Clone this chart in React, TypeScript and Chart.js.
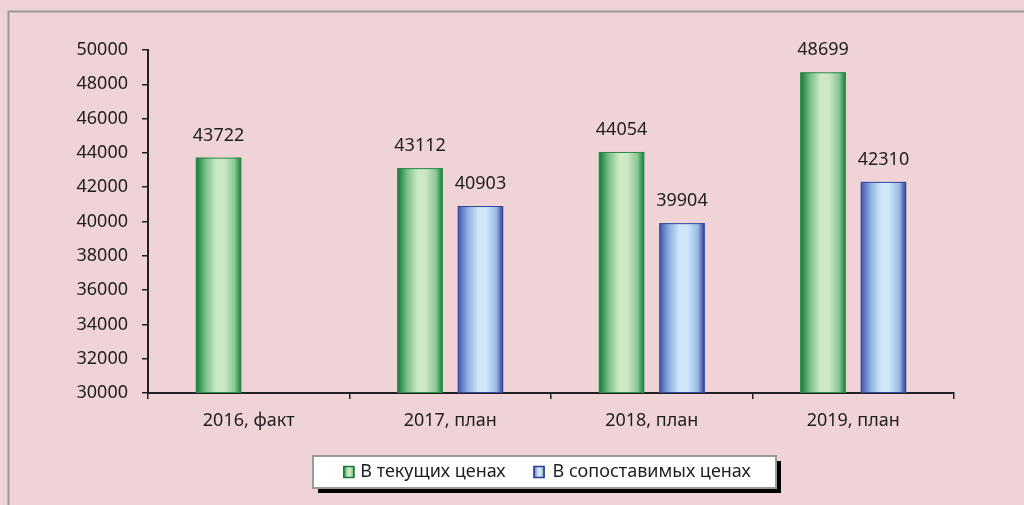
import React, { useEffect, useRef } from "react";
import { Chart, registerables } from "chart.js";

Chart.register(...registerables);

const categories = ["2016, факт", "2017, план", "2018, план", "2019, план"];
const currentPrices: (number | null)[] = [43722, 43112, 44054, 48699];
const comparablePrices: (number | null)[] = [null, 40903, 39904, 42310];
const seriesLabels = ["В текущих ценах", "В сопоставимых ценах"];
const yMin = 30000;
const yMax = 50000;
const yStep = 2000;

const BG = "#f0d3d6";
const FONT = "'Noto Sans', sans-serif";
const TEXT = "#1e1e1e";

const palettes = [
  { edgeL: "#0b7a35", mid1: "#7cc08a", light: "#cde8c5", mid2: "#8cc896", edgeR: "#0d7d37", border: "#2c8a48" },
  { edgeL: "#3e55ab", mid1: "#8fb0e0", light: "#cde8f8", mid2: "#9ab8e6", edgeR: "#2c3b8e", border: "#34479c" },
];

function makeGrad(ctx: CanvasRenderingContext2D, x0: number, x1: number, p: any) {
  const g = ctx.createLinearGradient(x0, 0, x1, 0);
  g.addColorStop(0, p.edgeL);
  g.addColorStop(0.22, p.mid1);
  g.addColorStop(0.45, p.light);
  g.addColorStop(0.62, p.light);
  g.addColorStop(0.85, p.mid2);
  g.addColorStop(1, p.edgeR);
  return g;
}

const decorPlugin = {
  id: "decor",
  beforeDraw(chart: any) {
    const ctx = chart.ctx as CanvasRenderingContext2D;
    ctx.save();
    ctx.fillStyle = BG;
    ctx.fillRect(0, 0, chart.width, chart.height);
    ctx.strokeStyle = "#999999";
    ctx.lineWidth = 2;
    ctx.beginPath();
    ctx.moveTo(8.5, chart.height);
    ctx.lineTo(8.5, 11.5);
    ctx.lineTo(chart.width, 11.5);
    ctx.stroke();
    ctx.restore();
  },
  afterDatasetsDraw(chart: any) {
    const ctx = chart.ctx as CanvasRenderingContext2D;
    const bottom = chart.chartArea.bottom;
    ctx.save();
    chart.data.datasets.forEach((ds: any, di: number) => {
      const meta = chart.getDatasetMeta(di);
      const p = palettes[di];
      meta.data.forEach((el: any, i: number) => {
        const v = ds.data[i];
        if (v === null || v === undefined) return;
        const { x, y, base, width } = el.getProps(["x", "y", "base", "width"], true);
        const b = Math.min(base, bottom);
        const x0 = x - width / 2;
        const x1 = x + width / 2;
        ctx.fillStyle = makeGrad(ctx, x0, x1, p);
        ctx.fillRect(x0, y, width, b - y);
        ctx.strokeStyle = p.border;
        ctx.lineWidth = 1;
        ctx.strokeRect(x0 + 0.5, y + 0.5, width - 1, b - y - 1);
        ctx.fillStyle = TEXT;
        ctx.font = `18px ${FONT}`;
        ctx.textAlign = "center";
        ctx.textBaseline = "middle";
        ctx.fillText(String(v), x, y - 22);
      });
    });
    ctx.restore();
  },
  afterDraw(chart: any) {
    const ctx = chart.ctx as CanvasRenderingContext2D;
    ctx.save();
    ctx.font = `18px ${FONT}`;
    const labels = chart.data.datasets.map((d: any) => d.label);
    const w1 = ctx.measureText(labels[0]).width;
    const w2 = ctx.measureText(labels[1]).width;
    const mk = 11;
    const total = mk + 7 + w1 + 28 + mk + 9 + w2;
    const cx = (chart.chartArea.left + chart.chartArea.right) / 2 - 3;
    const startX = cx - total / 2;
    const padL = 30;
    const padR = 24;
    const bx = Math.round(startX - padL);
    const bw = Math.round(total + padL + padR);
    const by = 456;
    const bh = 32;
    ctx.fillStyle = "#000000";
    ctx.fillRect(bx + 5, by + 5, bw, bh);
    ctx.fillStyle = "#ffffff";
    ctx.fillRect(bx, by, bw, bh);
    ctx.strokeStyle = "#9a9a9a";
    ctx.lineWidth = 2;
    ctx.strokeRect(bx, by, bw, bh);
    const cy = by + bh / 2;
    let xx = startX;
    [w1, w2].forEach((w, i) => {
      const p = palettes[i];
      ctx.fillStyle = makeGrad(ctx, xx, xx + mk, p);
      ctx.fillRect(xx, cy - 6, mk, 12);
      ctx.strokeStyle = p.edgeR;
      ctx.lineWidth = 1.5;
      ctx.strokeRect(xx + 0.5, cy - 5.5, mk - 1, 11);
      xx += mk + (i === 0 ? 6 : 8);
      ctx.fillStyle = TEXT;
      ctx.textAlign = "left";
      ctx.textBaseline = "middle";
      ctx.fillText(labels[i], xx, cy);
      xx += w + 28;
    });
    ctx.restore();
  },
};

export default function App() {
  const ref = useRef<HTMLCanvasElement | null>(null);
  useEffect(() => {
    document.body.style.margin = "0";
    document.body.style.background = BG;
    const canvas = ref.current!;
    Chart.defaults.font.family = FONT;
    const chart = new Chart(canvas, {
      type: "bar",
      data: {
        labels: categories,
        datasets: [
          {
            label: seriesLabels[0],
            data: currentPrices,
            backgroundColor: "rgba(0,0,0,0)",
            borderWidth: 0,
            categoryPercentage: 0.6,
            barPercentage: 0.75,
          },
          {
            label: seriesLabels[1],
            data: comparablePrices,
            backgroundColor: "rgba(0,0,0,0)",
            borderWidth: 0,
            categoryPercentage: 0.6,
            barPercentage: 0.75,
          },
        ],
      },
      options: {
        responsive: false,
        animation: false,
        devicePixelRatio: 1,
        layout: { padding: { top: 50, right: 70, bottom: 0, left: 0 } },
        plugins: {
          legend: { display: false },
          tooltip: { enabled: false },
        },
        scales: {
          x: {
            grid: {
              display: true,
              drawOnChartArea: false,
              drawTicks: true,
              tickLength: 6,
              color: "#222",
              lineWidth: 1.5,
              offset: true,
            },
            border: { display: true, color: "#222", width: 2 },
            ticks: { color: TEXT, font: { size: 18, family: FONT }, padding: 11 },
            afterFit: (s: any) => {
              s.height = 112;
            },
          },
          y: {
            min: yMin,
            max: yMax,
            grid: {
              display: true,
              drawOnChartArea: false,
              drawTicks: true,
              tickLength: 6,
              color: "#222",
              lineWidth: 1.5,
            },
            border: { display: true, color: "#222", width: 2 },
            ticks: {
              stepSize: yStep,
              color: TEXT,
              font: { size: 18, family: FONT },
              padding: 14,
              callback: (v: any) => String(v),
            },
            afterFit: (s: any) => {
              s.width = 148;
            },
          },
        },
      },
      plugins: [decorPlugin],
    });
    return () => chart.destroy();
  }, []);
  return (
    <div style={{ width: 1024, height: 505, background: BG }}>
      <canvas ref={ref} width={1024} height={505} style={{ display: "block" }} />
    </div>
  );
}
